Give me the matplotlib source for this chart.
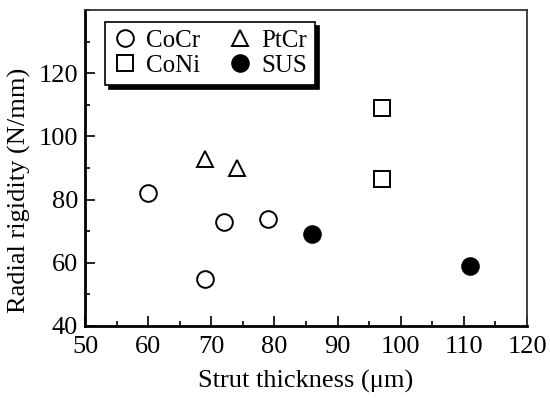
import matplotlib
matplotlib.use("Agg")
import matplotlib.pyplot as plt
from matplotlib.ticker import MultipleLocator

plt.rcParams['font.family'] = 'serif'
plt.rcParams['font.serif'] = ['Liberation Serif', 'DejaVu Serif']

cocr_x = [60, 69, 72, 79]
cocr_y = [82, 55, 73, 74]
ptcr_x = [69, 74]
ptcr_y = [93, 90]
coni_x = [97, 97]
coni_y = [109, 86.5]
sus_x = [86, 111]
sus_y = [69, 59]

fig = plt.figure(figsize=(5.5, 3.99), dpi=100)
ax = fig.add_axes([85/550, 1-326/399, (527-85)/550, (326-10)/399])

ms = 12
ax.plot(cocr_x, cocr_y, 'o', ms=ms, mfc='white', mec='black', mew=1.4, label='CoCr', linestyle='none')
ax.plot(coni_x, coni_y, 's', ms=ms*0.95, mfc='white', mec='black', mew=1.4, label='CoNi', linestyle='none')
ax.plot(ptcr_x, ptcr_y, '^', ms=ms, mfc='white', mec='black', mew=1.4, label='PtCr', linestyle='none')
ax.plot(sus_x, sus_y, 'o', ms=ms, mfc='black', mec='black', mew=1.4, label='SUS', linestyle='none')

ax.set_xlim(50, 120)
ax.set_ylim(40, 140)
ax.set_xticks(range(50, 121, 10))
ax.set_yticks(range(40, 121, 20))
ax.xaxis.set_minor_locator(MultipleLocator(5))
ax.yaxis.set_minor_locator(MultipleLocator(10))
ax.tick_params(direction='in', which='major', length=7, width=1.2, labelsize=19)
ax.tick_params(axis='x', which='major', pad=7)
ax.tick_params(axis='y', which='major', pad=5)
ax.tick_params(direction='in', which='minor', length=3.5, width=1.2)
for s in ['left', 'bottom']:
    ax.spines[s].set_linewidth(2)
for s in ['top', 'right']:
    ax.spines[s].set_linewidth(1.3)
    ax.spines[s].set_color('#333333')

ax.set_xlabel('Strut thickness (μm)', fontsize=19, labelpad=9)
ax.set_ylabel('Radial rigidity (N/mm)', fontsize=19)
ax.yaxis.set_label_coords(-0.122, 0.43)

leg = ax.legend(ncol=2, loc='upper left', bbox_to_anchor=(0.045, 0.962),
                fontsize=18, frameon=True, fancybox=False, edgecolor='black',
                shadow={'color': 'black', 'alpha': 1, 'ox': 3, 'oy': -3}, handletextpad=0.35,
                columnspacing=1.1, borderpad=0.3, labelspacing=0.1, handlelength=1.0,
                borderaxespad=0)
leg.get_frame().set_linewidth(1.2)

fig.savefig('out.png', dpi=100)
